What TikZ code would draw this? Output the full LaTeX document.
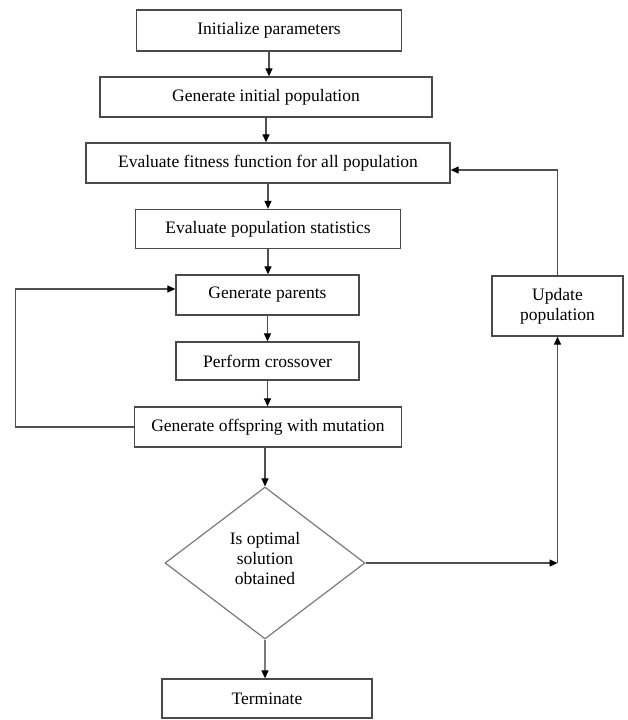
\documentclass[tikz,border=0pt]{standalone}
\usepackage{fontspec}
\setmainfont{Liberation Serif}
\usetikzlibrary{arrows.meta, shapes.geometric, positioning}
\definecolor{BoxGrey}{HTML}{4A4A4A}
\definecolor{LineGrey}{HTML}{4F4F4F}
\definecolor{DiaGrey}{HTML}{7A7A7A}
\tikzset{
  stepbox/.style={rectangle, draw=BoxGrey, line width=1.3pt, fill=white, minimum height=40pt, inner sep=0pt, font=\fontsize{17.5}{20}\selectfont, align=center},
  querybox/.style={diamond, draw=DiaGrey, line width=1.2pt, minimum width=200pt, minimum height=152pt, aspect=1.32, inner sep=0pt, font=\fontsize{17.5}{20}\selectfont, align=center},
  arrow/.style={-{Triangle[length=8pt,width=7pt,color=black]}, line width=1.2pt, draw=LineGrey}
}
\begin{document}
\begin{tikzpicture}[x=1pt, y=-1pt]
  \useasboundingbox (0,0) rectangle (628,720);
  \node[stepbox, minimum width=265pt, minimum height=41pt] (init) at (269,30.5) {Initialize parameters};
  \node[stepbox, minimum width=332pt] (genpop) at (266,97) {Generate initial population};
  \node[stepbox, minimum width=364pt] (fitness) at (268,163) {Evaluate fitness function for all population};
  \node[stepbox, minimum width=265pt, minimum height=39pt] (stats) at (268,229) {Evaluate population statistics};
  \node[stepbox, minimum width=183pt] (parents) at (267.5,295) {Generate parents};
  \node[stepbox, minimum width=183pt, minimum height=38pt] (cross) at (267.5,361) {Perform crossover};
  \node[stepbox, minimum width=267pt] (offspring) at (268,427) {Generate offspring with mutation};
  \node[querybox] (check) at (265,563) {};
  \node[font=\fontsize{17.5}{20}\selectfont, align=center] (checktext) at (265,559) {Is optimal\\solution\\obtained};
  \node[stepbox, minimum width=210pt, minimum height=39pt] (term) at (267,698.5) {Terminate};
  \node[stepbox, minimum width=131pt, minimum height=60pt] (update) at (557.5,306) {Update\\population};

  \draw[arrow] (init.south) -- (init.south |- genpop.north);
  \draw[arrow] (genpop.south) -- (genpop.south |- fitness.north);
  \draw[arrow] (fitness.south) -- (fitness.south |- stats.north);
  \draw[arrow] (stats.south) -- (stats.south |- parents.north);
  \draw[arrow] (parents.south) -- (parents.south |- cross.north);
  \draw[arrow] (cross.south) -- (cross.south |- offspring.north);
  \draw[arrow] (offspring.south -| check.north) -- (check.north);
  \draw[arrow, draw=DiaGrey] (check.south) -- (check.south |- term.north);
  \draw[arrow] (offspring.west) -- ++(-118,0) |- ([yshift=6pt]parents.west);
  \draw[arrow] (check.east) -- (check.east -| update.south);
  \draw[arrow] (check.east -| update.south) -- (update.south);
  \draw[arrow] (update.north) |- ([yshift=-7pt]fitness.east);
\end{tikzpicture}
\end{document}
